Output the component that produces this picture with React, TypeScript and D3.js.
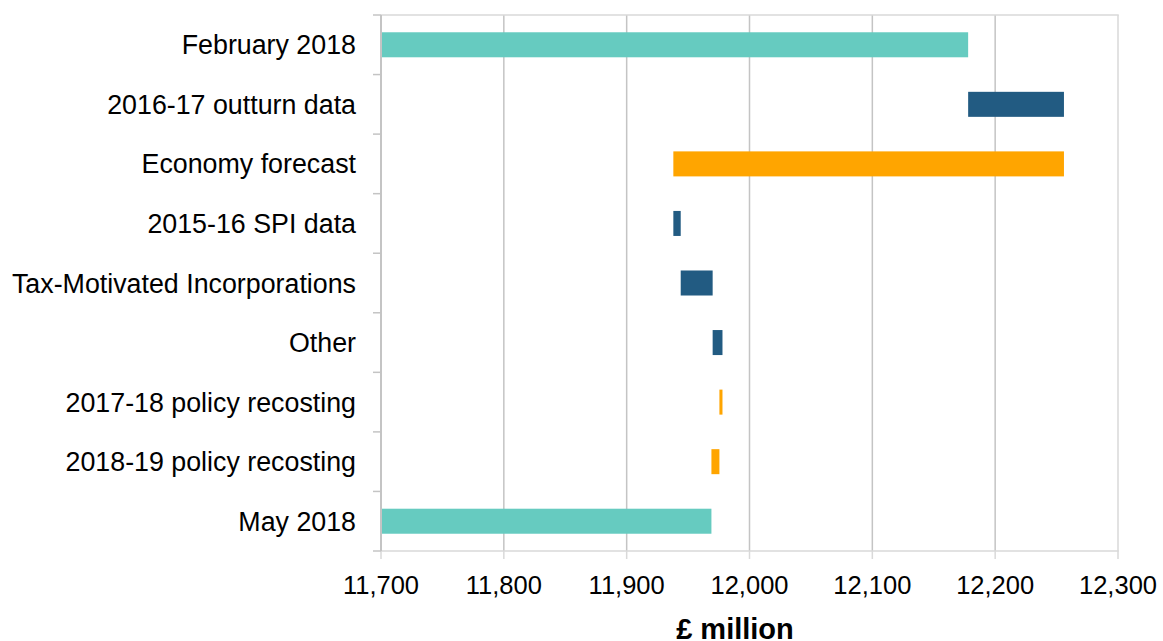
import React from "react";
import * as d3 from "d3";

const categories = [
  "February 2018",
  "2016-17 outturn data",
  "Economy forecast",
  "2015-16 SPI data",
  "Tax-Motivated Incorporations",
  "Other",
  "2017-18 policy recosting",
  "2018-19 policy recosting",
  "May 2018",
];
// totals are absolute values; others are changes
const values = [12178, 78, -318, 6, 26, 8, -2.5, -6.5, 11969];
const kinds = ["total", "data", "forecast", "data", "data", "data", "forecast", "forecast", "total"];
const xTicks = [11700, 11800, 11900, 12000, 12100, 12200, 12300];
const xLabel = "£ million";

const colors: Record<string, string> = {
  total: "#66CBC0",
  data: "#225B82",
  forecast: "#FFA500",
};

export default function App() {
  const W = 1163;
  const H = 641;
  const left = 381;
  const right = 1118;
  const top = 15;
  const bottom = 551;

  const x = d3.scaleLinear().domain([11700, 12300]).range([left, right]);
  const y = d3
    .scaleBand<string>()
    .domain(categories)
    .range([top, bottom])
    .paddingInner(0.58)
    .paddingOuter(0.29);

  let running = 0;
  const bars = categories.map((c, i) => {
    let a: number, b: number;
    if (kinds[i] === "total") {
      a = 11700;
      b = values[i];
      running = values[i];
    } else {
      a = running;
      b = running + values[i];
      running = b;
    }
    return { c, a: Math.min(a, b), b: Math.max(a, b), kind: kinds[i] };
  });

  const step = y.step();
  const font = "Liberation Sans, Arial, sans-serif";

  return (
    <svg
      width={W}
      height={H}
      style={{ position: "absolute", left: 0, top: 0, display: "block" }}
      fontFamily={font}
    >
      <rect x={0} y={0} width={W} height={H} fill="#fff" />
      {/* gridlines */}
      {xTicks.slice(1).map((t) => (
        <line
          key={"g" + t}
          x1={x(t)}
          x2={x(t)}
          y1={top}
          y2={bottom}
          stroke={t === 12300 ? "#d9d9d9" : "#c4c4c4"}
          strokeWidth={1.5}
        />
      ))}
      {/* top & bottom border */}
      <line x1={left} x2={right + 0.75} y1={top} y2={top} stroke="#d9d9d9" strokeWidth={1.5} />
      <line x1={left} x2={right + 0.75} y1={bottom} y2={bottom} stroke="#d9d9d9" strokeWidth={1.5} />
      {/* x ticks */}
      {xTicks.map((t) => (
        <line
          key={"xt" + t}
          x1={x(t)}
          x2={x(t)}
          y1={bottom}
          y2={bottom + 8}
          stroke="#d9d9d9"
          strokeWidth={1.5}
        />
      ))}
      {/* bars */}
      {bars.map((d) => (
        <rect
          key={d.c}
          x={x(d.a)}
          y={y(d.c)}
          width={Math.max(0, x(d.b) - x(d.a))}
          height={y.bandwidth()}
          fill={colors[d.kind]}
        />
      ))}
      {/* left axis */}
      <line x1={left} x2={left} y1={top} y2={bottom} stroke="#c4c4c4" strokeWidth={2} />
      {d3.range(categories.length + 1).map((i) => (
        <line
          key={"yt" + i}
          x1={left - 8}
          x2={left}
          y1={top + i * step}
          y2={top + i * step}
          stroke="#c4c4c4"
          strokeWidth={1.5}
        />
      ))}
      {/* category labels */}
      {categories.map((c) => (
        <text
          key={"l" + c}
          x={356}
          y={(y(c) as number) + y.bandwidth() / 2 + 9.5}
          textAnchor="end"
          fontSize={26.8}
          fill="#000"
        >
          {c}
        </text>
      ))}
      {/* x tick labels */}
      {xTicks.map((t) => (
        <text
          key={"xl" + t}
          x={x(t)}
          y={594}
          textAnchor="middle"
          fontSize={25.5}
          fill="#000"
        >
          {d3.format(",")(t)}
        </text>
      ))}
      <text x={735} y={639} textAnchor="middle" fontSize={29} fontWeight="bold" fill="#000">
        {xLabel}
      </text>
    </svg>
  );
}
